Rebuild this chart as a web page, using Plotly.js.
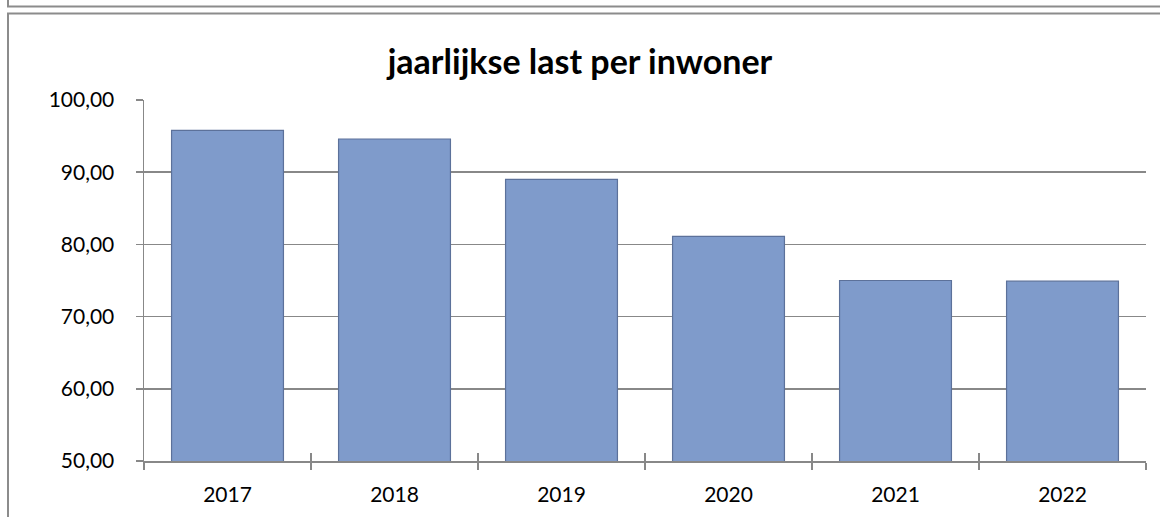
<!DOCTYPE html>
<html>
<head>
<meta charset="utf-8">
<script src="https://cdn.plot.ly/plotly-3.0.1.min.js"></script>
<style>
  html, body { margin: 0; padding: 0; background: #ffffff; overflow: hidden; width: 1160px; height: 517px; }
  #chart { width: 1160px; height: 517px; position: absolute; left: 0; top: 0; }
  #frame { position: absolute; left: 0; top: 0; width: 1160px; height: 517px; pointer-events: none; }
</style>
</head>
<body>
<div id="chart"></div>
<svg id="frame" width="1160" height="517" xmlns="http://www.w3.org/2000/svg">
  <line x1="8" y1="0" x2="8" y2="7" stroke="#8c8c8c" stroke-width="2"/>
  <line x1="7" y1="6.5" x2="1160" y2="6.5" stroke="#8c8c8c" stroke-width="2"/>
  <line x1="7" y1="13.5" x2="1160" y2="13.5" stroke="#8c8c8c" stroke-width="2"/>
  <line x1="8" y1="13" x2="8" y2="517" stroke="#8c8c8c" stroke-width="2"/>
</svg>
<script>
const years = ["2017", "2018", "2019", "2020", "2021", "2022"];
const lastPerInwoner = [95.8, 94.6, 89.0, 81.1, 75.0, 74.9];
const chartTitle = "jaarlijkse last per inwoner";

const gridColor = "#888888";
const fontFam = "Lato, 'Open Sans', sans-serif";

const bars = {
  type: "bar",
  x: years,
  y: lastPerInwoner,
  marker: {
    color: "#7f9bcb",
    line: { color: "#5c719a", width: 1.2 }
  },
  hoverinfo: "x+y"
};

const tickHelper = {
  type: "scatter",
  mode: "markers",
  x: years,
  y: lastPerInwoner,
  xaxis: "x2",
  yaxis: "y2",
  marker: { opacity: 0 },
  hoverinfo: "skip",
  showlegend: false
};

const layout = {
  width: 1160,
  height: 517,
  margin: { l: 144, r: 14, t: 100, b: 56 },
  paper_bgcolor: "#ffffff",
  plot_bgcolor: "#ffffff",
  showlegend: false,
  bargap: 0.33,
  font: { family: fontFam, color: "#000000", size: 21 },
  title: {
    text: "<b>" + chartTitle + "</b>",
    font: { family: fontFam, size: 34, color: "#000000" },
    x: 0.5, xref: "container", xanchor: "center",
    y: 0.88, yref: "container", yanchor: "middle"
  },
  xaxis: {
    type: "category",
    categoryarray: years,
    range: [-0.5, 5.5],
    tickson: "boundaries",
    ticks: "outside",
    ticklen: 7,
    tickwidth: 1.5,
    tickcolor: gridColor,
    showline: true,
    linecolor: gridColor,
    linewidth: 1.5,
    showgrid: false,
    zeroline: false,
    tickfont: { family: fontFam, size: 21, color: "#000000" },
    ticklabelstandoff: 14
  },
  yaxis: {
    range: [50, 100],
    tick0: 50,
    dtick: 10,
    tickformat: ".2f",
    ticks: "outside",
    ticklen: 7,
    tickwidth: 1.5,
    tickcolor: gridColor,
    showline: true,
    linecolor: gridColor,
    linewidth: 1.5,
    showgrid: true,
    gridcolor: gridColor,
    gridwidth: 1.5,
    zeroline: false,
    tickfont: { family: fontFam, size: 21, color: "#000000" },
    ticklabelstandoff: 17
  },
  xaxis2: {
    type: "category",
    categoryarray: years,
    range: [-0.5, 5.5],
    overlaying: "x",
    anchor: "y2",
    side: "bottom",
    tickson: "boundaries",
    ticks: "inside",
    ticklen: 8,
    tickwidth: 1.5,
    tickcolor: gridColor,
    showticklabels: false,
    showgrid: false,
    showline: false,
    zeroline: false
  },
  yaxis2: {
    range: [50, 100],
    tick0: 50,
    dtick: 10,
    overlaying: "y",
    anchor: "x2",
    side: "left",
    ticks: "inside",
    ticklen: 8,
    tickwidth: 1.5,
    tickcolor: gridColor,
    showticklabels: false,
    showgrid: false,
    showline: false,
    zeroline: false
  },
  separators: ",."
};

Plotly.newPlot("chart", [bars, tickHelper], layout, { displayModeBar: false, staticPlot: true });
</script>
</body>
</html>
